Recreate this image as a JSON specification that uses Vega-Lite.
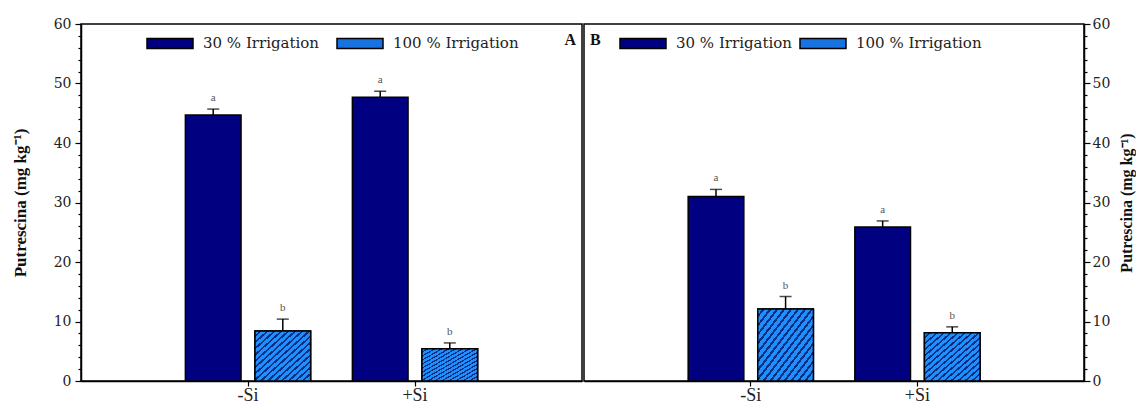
{
  "$schema": "https://vega.github.io/schema/vega-lite/v6.json",
  "autosize": {"type": "pad"},
  "padding": {"left": 10, "top": 16, "right": 0, "bottom": 0},
  "background": "white",
  "config": {
    "view": {"stroke": "black", "strokeWidth": 1.5},
    "font": "Liberation Serif",
    "axis": {
      "labelFont": "DejaVu Serif",
      "titleFont": "Liberation Serif",
      "labelColor": "#222",
      "titleColor": "#111",
      "domainColor": "black",
      "tickColor": "black",
      "domainWidth": 1.5,
      "tickWidth": 1.2,
      "grid": false
    },
    "legend": {"labelFont": "DejaVu Serif", "labelColor": "#222"}
  },
  "datasets": {
    "putrescina": [
      {"panel": "A", "si": "-Si", "irr": "30 % Irrigation", "val": 44.7, "top": 45.7, "sig": "a"},
      {"panel": "A", "si": "-Si", "irr": "100 % Irrigation", "val": 8.4, "top": 10.4, "sig": "b"},
      {"panel": "A", "si": "+Si", "irr": "30 % Irrigation", "val": 47.7, "top": 48.7, "sig": "a"},
      {"panel": "A", "si": "+Si", "irr": "100 % Irrigation", "val": 5.4, "top": 6.4, "sig": "b"},
      {"panel": "B", "si": "-Si", "irr": "30 % Irrigation", "val": 31.0, "top": 32.2, "sig": "a"},
      {"panel": "B", "si": "-Si", "irr": "100 % Irrigation", "val": 12.1, "top": 14.2, "sig": "b"},
      {"panel": "B", "si": "+Si", "irr": "30 % Irrigation", "val": 25.9, "top": 26.9, "sig": "a"},
      {"panel": "B", "si": "+Si", "irr": "100 % Irrigation", "val": 8.1, "top": 9.1, "sig": "b"}
    ]
  },
  "data": {"name": "putrescina"},
  "spacing": 0,
  "resolve": {"scale": {"color": "independent"}, "legend": {"color": "independent"}},
  "hconcat": [
    {
      "width": 501,
      "height": 357,
      "transform": [{"filter": "datum.panel === 'A'"}],
      "title": {"text": "A", "anchor": "end", "baseline": "top", "offset": -31, "dx": -6, "fontSize": 16, "fontWeight": "bold", "font": "Liberation Serif", "color": "#111"},
      "encoding": {
        "x": {
          "field": "si", "type": "nominal",
          "scale": {"domain": ["-Si", "+Si"], "paddingInner": 0.25, "paddingOuter": 0.625},
          "axis": {"title": null, "labelAngle": 0, "labelFont": "Liberation Serif", "labelFontSize": 18, "tickSize": 5, "labelPadding": 0}
        },
        "xOffset": {
          "field": "irr", "type": "nominal",
          "scale": {"domain": ["30 % Irrigation", "100 % Irrigation"], "paddingInner": 0.2, "paddingOuter": 0}
        }
      },
      "layer": [
        {
          "mark": {"type": "bar", "stroke": "black", "strokeWidth": 1.5, "opacity": 1},
          "encoding": {
            "y": {
              "field": "val", "type": "quantitative",
              "scale": {"domain": [0, 60], "nice": false},
              "axis": {"orient": "left", "values": [0, 10, 20, 30, 40, 50, 60], "title": "Putrescina (mg kg⁻¹)", "titleFontSize": 17, "titleFontWeight": "bold", "labelFontSize": 14, "tickSize": 6, "labelPadding": 4, "titlePadding": 24}
            },
            "color": {
              "field": "irr", "type": "nominal",
              "scale": {"domain": ["30 % Irrigation", "100 % Irrigation"], "range": ["#000080", "#1872e0"]},
              "legend": {
                "orient": "none", "legendX": 65, "legendY": -5, "direction": "horizontal", "title": null,
                "symbolType": "M-1,-0.22H1V0.22H-1Z", "symbolSize": 2116, "labelFontSize": 15, "labelFont": "DejaVu Serif",
                "labelOffset": 9, "columnPadding": 14, "symbolStrokeColor": "black", "symbolStrokeWidth": 1.5, "symbolOpacity": 1
              }
            }
          }
        },
        {
          "transform": [{"filter": "datum.irr === '100 % Irrigation'"}],
          "mark": {"type": "bar", "stroke": "black", "strokeWidth": 1.5, "opacity": 1, "fill": {"gradient": "linear", "x1": 0, "y1": 0, "x2": 1, "y2": 1, "stops": [
            {"offset": 0, "color": "#1e8fff"}, {"offset": 0.04, "color": "#1e8fff"}, {"offset": 0.04, "color": "#0b2f80"}, {"offset": 0.0625, "color": "#0b2f80"},
            {"offset": 0.0625, "color": "#1e8fff"}, {"offset": 0.1025, "color": "#1e8fff"}, {"offset": 0.1025, "color": "#0b2f80"}, {"offset": 0.125, "color": "#0b2f80"},
            {"offset": 0.125, "color": "#1e8fff"}, {"offset": 0.165, "color": "#1e8fff"}, {"offset": 0.165, "color": "#0b2f80"}, {"offset": 0.1875, "color": "#0b2f80"},
            {"offset": 0.1875, "color": "#1e8fff"}, {"offset": 0.2275, "color": "#1e8fff"}, {"offset": 0.2275, "color": "#0b2f80"}, {"offset": 0.25, "color": "#0b2f80"},
            {"offset": 0.25, "color": "#1e8fff"}, {"offset": 0.29, "color": "#1e8fff"}, {"offset": 0.29, "color": "#0b2f80"}, {"offset": 0.3125, "color": "#0b2f80"},
            {"offset": 0.3125, "color": "#1e8fff"}, {"offset": 0.3525, "color": "#1e8fff"}, {"offset": 0.3525, "color": "#0b2f80"}, {"offset": 0.375, "color": "#0b2f80"},
            {"offset": 0.375, "color": "#1e8fff"}, {"offset": 0.415, "color": "#1e8fff"}, {"offset": 0.415, "color": "#0b2f80"}, {"offset": 0.4375, "color": "#0b2f80"},
            {"offset": 0.4375, "color": "#1e8fff"}, {"offset": 0.4775, "color": "#1e8fff"}, {"offset": 0.4775, "color": "#0b2f80"}, {"offset": 0.5, "color": "#0b2f80"},
            {"offset": 0.5, "color": "#1e8fff"}, {"offset": 0.54, "color": "#1e8fff"}, {"offset": 0.54, "color": "#0b2f80"}, {"offset": 0.5625, "color": "#0b2f80"},
            {"offset": 0.5625, "color": "#1e8fff"}, {"offset": 0.6025, "color": "#1e8fff"}, {"offset": 0.6025, "color": "#0b2f80"}, {"offset": 0.625, "color": "#0b2f80"},
            {"offset": 0.625, "color": "#1e8fff"}, {"offset": 0.665, "color": "#1e8fff"}, {"offset": 0.665, "color": "#0b2f80"}, {"offset": 0.6875, "color": "#0b2f80"},
            {"offset": 0.6875, "color": "#1e8fff"}, {"offset": 0.7275, "color": "#1e8fff"}, {"offset": 0.7275, "color": "#0b2f80"}, {"offset": 0.75, "color": "#0b2f80"},
            {"offset": 0.75, "color": "#1e8fff"}, {"offset": 0.79, "color": "#1e8fff"}, {"offset": 0.79, "color": "#0b2f80"}, {"offset": 0.8125, "color": "#0b2f80"},
            {"offset": 0.8125, "color": "#1e8fff"}, {"offset": 0.8525, "color": "#1e8fff"}, {"offset": 0.8525, "color": "#0b2f80"}, {"offset": 0.875, "color": "#0b2f80"},
            {"offset": 0.875, "color": "#1e8fff"}, {"offset": 0.915, "color": "#1e8fff"}, {"offset": 0.915, "color": "#0b2f80"}, {"offset": 0.9375, "color": "#0b2f80"},
            {"offset": 0.9375, "color": "#1e8fff"}, {"offset": 0.9775, "color": "#1e8fff"}, {"offset": 0.9775, "color": "#0b2f80"}, {"offset": 1, "color": "#0b2f80"}
          ]}},
          "encoding": {
            "y": {"field": "val", "type": "quantitative", "axis": null}
          }
        },
        {
          "mark": {"type": "rule", "color": "black", "strokeWidth": 1.5},
          "encoding": {
            "y": {"field": "val", "type": "quantitative", "axis": null},
            "y2": {"field": "top"}
          }
        },
        {
          "mark": {"type": "tick", "color": "black", "size": 12, "thickness": 1.5, "orient": "horizontal"},
          "encoding": {
            "y": {
              "field": "top", "type": "quantitative",
              "axis": {"orient": "left", "values": [2, 4, 6, 8, 12, 14, 16, 18, 22, 24, 26, 28, 32, 34, 36, 38, 42, 44, 46, 48, 52, 54, 56, 58], "labels": false, "domain": false, "tickSize": 3, "title": null}
            }
          }
        },
        {
          "mark": {"type": "text", "baseline": "bottom", "dy": -6, "fontSize": 11, "color": "#555", "font": "Liberation Serif"},
          "encoding": {
            "y": {"field": "top", "type": "quantitative", "axis": null},
            "text": {"field": "sig"}
          }
        }
      ],
      "resolve": {"axis": {"y": "independent"}}
    },
    {
      "width": 500,
      "height": 357,
      "transform": [{"filter": "datum.panel === 'B'"}],
      "title": {"text": "B", "anchor": "start", "baseline": "top", "offset": -31, "dx": 6, "fontSize": 16, "fontWeight": "bold", "font": "Liberation Serif", "color": "#111"},
      "encoding": {
        "x": {
          "field": "si", "type": "nominal",
          "scale": {"domain": ["-Si", "+Si"], "paddingInner": 0.25, "paddingOuter": 0.625},
          "axis": {"title": null, "labelAngle": 0, "labelFont": "Liberation Serif", "labelFontSize": 18, "tickSize": 5, "labelPadding": 0}
        },
        "xOffset": {
          "field": "irr", "type": "nominal",
          "scale": {"domain": ["30 % Irrigation", "100 % Irrigation"], "paddingInner": 0.2, "paddingOuter": 0}
        }
      },
      "layer": [
        {
          "mark": {"type": "bar", "stroke": "black", "strokeWidth": 1.5, "opacity": 1},
          "encoding": {
            "y": {
              "field": "val", "type": "quantitative",
              "scale": {"domain": [0, 60], "nice": false},
              "axis": {"orient": "right", "values": [0, 10, 20, 30, 40, 50, 60], "title": "Putrescina (mg kg⁻¹)", "titleAngle": 270, "titleBaseline": "top", "titleFontSize": 16, "titleFontWeight": "bold", "labelFontSize": 14, "tickSize": 6, "labelPadding": 2, "titlePadding": 9}
            },
            "color": {
              "field": "irr", "type": "nominal",
              "scale": {"domain": ["30 % Irrigation", "100 % Irrigation"], "range": ["#000080", "#1872e0"]},
              "legend": {
                "orient": "none", "legendX": 35, "legendY": -5, "direction": "horizontal", "title": null,
                "symbolType": "M-1,-0.22H1V0.22H-1Z", "symbolSize": 2116, "labelFontSize": 15, "labelFont": "DejaVu Serif",
                "labelOffset": 9, "columnPadding": 4, "symbolStrokeColor": "black", "symbolStrokeWidth": 1.5, "symbolOpacity": 1
              }
            }
          }
        },
        {
          "transform": [{"filter": "datum.irr === '100 % Irrigation'"}],
          "mark": {"type": "bar", "stroke": "black", "strokeWidth": 1.5, "opacity": 1, "fill": {"gradient": "linear", "x1": 0, "y1": 0, "x2": 1, "y2": 1, "stops": [
            {"offset": 0, "color": "#1e8fff"}, {"offset": 0.04, "color": "#1e8fff"}, {"offset": 0.04, "color": "#0b2f80"}, {"offset": 0.0625, "color": "#0b2f80"},
            {"offset": 0.0625, "color": "#1e8fff"}, {"offset": 0.1025, "color": "#1e8fff"}, {"offset": 0.1025, "color": "#0b2f80"}, {"offset": 0.125, "color": "#0b2f80"},
            {"offset": 0.125, "color": "#1e8fff"}, {"offset": 0.165, "color": "#1e8fff"}, {"offset": 0.165, "color": "#0b2f80"}, {"offset": 0.1875, "color": "#0b2f80"},
            {"offset": 0.1875, "color": "#1e8fff"}, {"offset": 0.2275, "color": "#1e8fff"}, {"offset": 0.2275, "color": "#0b2f80"}, {"offset": 0.25, "color": "#0b2f80"},
            {"offset": 0.25, "color": "#1e8fff"}, {"offset": 0.29, "color": "#1e8fff"}, {"offset": 0.29, "color": "#0b2f80"}, {"offset": 0.3125, "color": "#0b2f80"},
            {"offset": 0.3125, "color": "#1e8fff"}, {"offset": 0.3525, "color": "#1e8fff"}, {"offset": 0.3525, "color": "#0b2f80"}, {"offset": 0.375, "color": "#0b2f80"},
            {"offset": 0.375, "color": "#1e8fff"}, {"offset": 0.415, "color": "#1e8fff"}, {"offset": 0.415, "color": "#0b2f80"}, {"offset": 0.4375, "color": "#0b2f80"},
            {"offset": 0.4375, "color": "#1e8fff"}, {"offset": 0.4775, "color": "#1e8fff"}, {"offset": 0.4775, "color": "#0b2f80"}, {"offset": 0.5, "color": "#0b2f80"},
            {"offset": 0.5, "color": "#1e8fff"}, {"offset": 0.54, "color": "#1e8fff"}, {"offset": 0.54, "color": "#0b2f80"}, {"offset": 0.5625, "color": "#0b2f80"},
            {"offset": 0.5625, "color": "#1e8fff"}, {"offset": 0.6025, "color": "#1e8fff"}, {"offset": 0.6025, "color": "#0b2f80"}, {"offset": 0.625, "color": "#0b2f80"},
            {"offset": 0.625, "color": "#1e8fff"}, {"offset": 0.665, "color": "#1e8fff"}, {"offset": 0.665, "color": "#0b2f80"}, {"offset": 0.6875, "color": "#0b2f80"},
            {"offset": 0.6875, "color": "#1e8fff"}, {"offset": 0.7275, "color": "#1e8fff"}, {"offset": 0.7275, "color": "#0b2f80"}, {"offset": 0.75, "color": "#0b2f80"},
            {"offset": 0.75, "color": "#1e8fff"}, {"offset": 0.79, "color": "#1e8fff"}, {"offset": 0.79, "color": "#0b2f80"}, {"offset": 0.8125, "color": "#0b2f80"},
            {"offset": 0.8125, "color": "#1e8fff"}, {"offset": 0.8525, "color": "#1e8fff"}, {"offset": 0.8525, "color": "#0b2f80"}, {"offset": 0.875, "color": "#0b2f80"},
            {"offset": 0.875, "color": "#1e8fff"}, {"offset": 0.915, "color": "#1e8fff"}, {"offset": 0.915, "color": "#0b2f80"}, {"offset": 0.9375, "color": "#0b2f80"},
            {"offset": 0.9375, "color": "#1e8fff"}, {"offset": 0.9775, "color": "#1e8fff"}, {"offset": 0.9775, "color": "#0b2f80"}, {"offset": 1, "color": "#0b2f80"}
          ]}},
          "encoding": {
            "y": {"field": "val", "type": "quantitative", "axis": null}
          }
        },
        {
          "mark": {"type": "rule", "color": "black", "strokeWidth": 1.5},
          "encoding": {
            "y": {"field": "val", "type": "quantitative", "axis": null},
            "y2": {"field": "top"}
          }
        },
        {
          "mark": {"type": "tick", "color": "black", "size": 12, "thickness": 1.5, "orient": "horizontal"},
          "encoding": {
            "y": {
              "field": "top", "type": "quantitative",
              "axis": {"orient": "right", "values": [2, 4, 6, 8, 12, 14, 16, 18, 22, 24, 26, 28, 32, 34, 36, 38, 42, 44, 46, 48, 52, 54, 56, 58], "labels": false, "domain": false, "tickSize": 3, "title": null}
            }
          }
        },
        {
          "mark": {"type": "text", "baseline": "bottom", "dy": -6, "fontSize": 11, "color": "#555", "font": "Liberation Serif"},
          "encoding": {
            "y": {"field": "top", "type": "quantitative", "axis": null},
            "text": {"field": "sig"}
          }
        }
      ],
      "resolve": {"axis": {"y": "independent"}}
    }
  ]
}
